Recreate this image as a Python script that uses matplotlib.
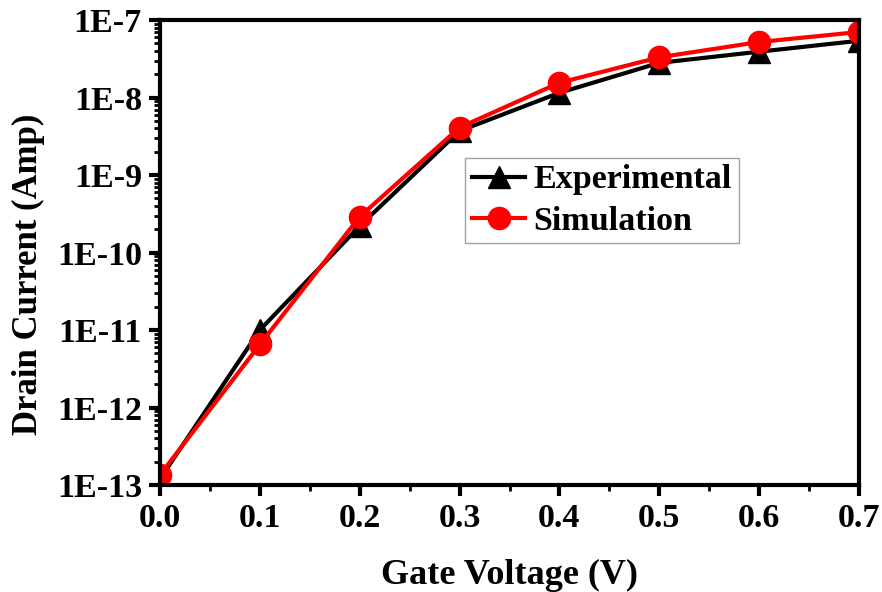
import numpy as np
import matplotlib
matplotlib.use('Agg')
from matplotlib import pyplot as plt
from matplotlib.ticker import LogLocator, FixedLocator, NullFormatter

# gate voltage (V)
gate_voltage = [0.0, 0.1, 0.2, 0.3, 0.4, 0.5, 0.6, 0.7]
# drain current (A)
experimental = [1.2e-13, 1.0e-11, 2.2e-10, 3.7e-9, 1.15e-8, 2.8e-8, 3.9e-8, 5.4e-8]
simulation = [1.35e-13, 6.5e-12, 2.9e-10, 4.1e-9, 1.55e-8, 3.3e-8, 5.2e-8, 7.0e-8]

ytick_vals = [1e-13, 1e-12, 1e-11, 1e-10, 1e-9, 1e-8, 1e-7]
ytick_labels = ['1E-13', '1E-12', '1E-11', '1E-10', '1E-9', '1E-8', '1E-7']
xtick_vals = [0.0, 0.1, 0.2, 0.3, 0.4, 0.5, 0.6, 0.7]

plt.rcParams['font.family'] = ['Liberation Serif', 'DejaVu Serif']
plt.rcParams['font.weight'] = 'bold'

fig = plt.figure(figsize=(8.82, 5.92), dpi=100)
ax = fig.add_axes([160 / 882., 1 - 485 / 592., 699 / 882., 465 / 592.])

ax.plot(gate_voltage, experimental, color='black', lw=3, marker='^', ms=16,
        label='Experimental', zorder=3)
ax.plot(gate_voltage, simulation, color='#ff0000', lw=3, marker='o', ms=16,
        label='Simulation', zorder=4)

ax.set_yscale('log')
ax.set_xlim(0.0, 0.7)
ax.set_ylim(1e-13, 1e-7)

ax.yaxis.set_major_locator(FixedLocator(ytick_vals))
ax.set_yticklabels(ytick_labels)
ax.yaxis.set_minor_locator(LogLocator(base=10, subs=np.arange(2, 10), numticks=20))
ax.yaxis.set_minor_formatter(NullFormatter())

ax.set_xticks(xtick_vals)
ax.set_xticklabels(['%.1f' % v for v in xtick_vals])
ax.xaxis.set_minor_locator(FixedLocator(np.arange(0.05, 0.7, 0.1)))

for s in ax.spines.values():
	s.set_linewidth(3)
	s.set_zorder(5)

ax.tick_params(which='major', direction='out', length=8, width=3, labelsize=24.5,
               top=False, right=False, pad=5)
ax.tick_params(which='minor', direction='out', length=4, width=2,
               top=False, right=False)

ax.set_xlabel('Gate Voltage (V)', fontsize=26, fontweight='bold', labelpad=18)
ax.set_ylabel('Drain Current (Amp)', fontsize=25, fontweight='bold')
ax.yaxis.set_label_coords(-0.165, 0.454)

leg = ax.legend(loc='upper left', bbox_to_anchor=(0.437, 0.704), fontsize=24.5,
                frameon=True, fancybox=False, handlelength=1.55,
                handletextpad=0.25, borderpad=0.2, labelspacing=0.3,
                borderaxespad=0)
leg.get_frame().set_edgecolor('#888888')
leg.get_frame().set_linewidth(1)
for t in leg.get_texts():
	t.set_fontweight('bold')

fig.savefig('out.png', dpi=100)
